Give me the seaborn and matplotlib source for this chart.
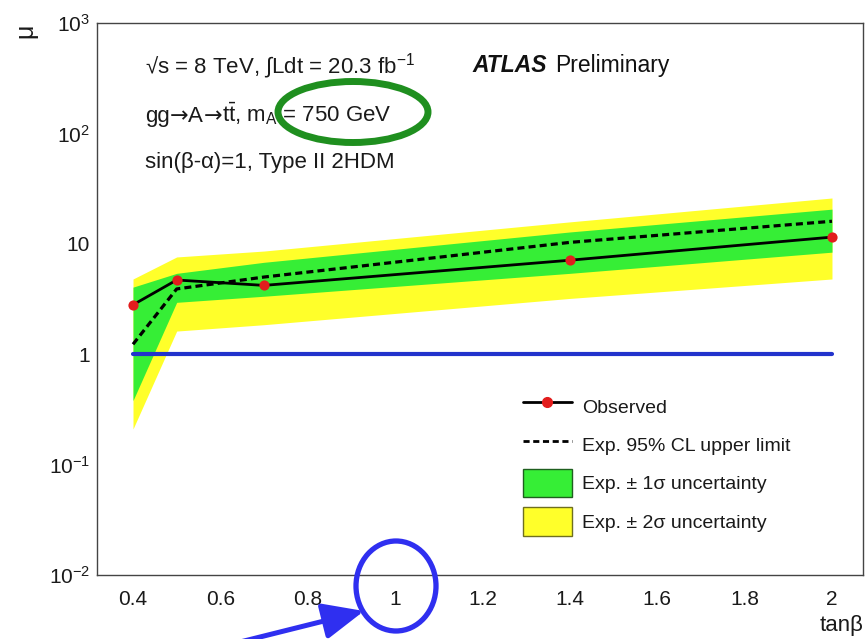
import matplotlib
matplotlib.use("Agg")
import numpy as np
import matplotlib.pyplot as plt
import seaborn as sns
from matplotlib.patches import Ellipse, FancyArrowPatch, Patch
from matplotlib.lines import Line2D
from matplotlib.ticker import FixedLocator, FixedFormatter, MultipleLocator, LogLocator, NullFormatter

# tan(beta) scan points and the signal-strength limits at each of them
tan_beta = [0.4, 0.5, 0.7, 1.4, 2.0]
mu_observed = [2.8, 4.7, 4.2, 7.1, 11.5]
mu_expected = [1.23, 3.9, 5.0, 10.3, 16.0]
sigma1_low = [0.38, 2.95, 3.35, 5.4, 8.4]
sigma1_high = [4.05, 5.4, 6.8, 12.8, 20.6]
sigma2_low = [0.21, 1.62, 1.85, 3.2, 4.8]
sigma2_high = [4.8, 7.6, 8.6, 15.8, 26.0]

# mu = 1 reference across the scanned range
reference_x = [0.4, 2.0]
reference_mu = [1.0, 1.0]

x_ticks = [0.4, 0.6, 0.8, 1.0, 1.2, 1.4, 1.6, 1.8, 2.0]
x_tick_labels = ["0.4", "0.6", "0.8", "1", "1.2", "1.4", "1.6", "1.8", "2"]
y_ticks = [1e-2, 1e-1, 1, 10, 1e2, 1e3]
y_tick_labels = [r"$10^{-2}$", r"$10^{-1}$", "1", "10", r"$10^{2}$", r"$10^{3}$"]

legend_labels = ["Observed", "Exp. 95% CL upper limit",
                 "Exp. \u00b1 1\u03c3 uncertainty", "Exp. \u00b1 2\u03c3 uncertainty"]

GREEN = "#36ee36"
YELLOW = "#ffff2a"
RED = "#e21d1d"
BLUE_LINE = "#2233cc"
MARK_GREEN = "#1f8f1f"
MARK_BLUE = "#2f2ff0"

sns.set_theme(style="white")
plt.rcParams["font.family"] = ["Liberation Sans", "DejaVu Sans"]
plt.rcParams["mathtext.fontset"] = "custom"
plt.rcParams["mathtext.rm"] = "Liberation Sans"
plt.rcParams["mathtext.it"] = "Liberation Sans:italic"
plt.rcParams["mathtext.bf"] = "Liberation Sans:bold"
plt.rcParams["mathtext.fallback"] = "stixsans"

W, H = 867, 639
fig = plt.figure(figsize=(W / 100, H / 100), dpi=100)
fig.patch.set_facecolor("white")


def fx(px):
    return px / W


def fy(py):
    return 1 - py / H


ax = fig.add_axes([fx(97), fy(575), 766 / W, 552 / H])
ax.set_facecolor("white")

# uncertainty bands
ax.fill_between(tan_beta, sigma2_low, sigma2_high, color=YELLOW, lw=0, zorder=1)
ax.fill_between(tan_beta, sigma1_low, sigma1_high, color=GREEN, lw=0, zorder=2)

sns.lineplot(x=reference_x, y=reference_mu, ax=ax, color=BLUE_LINE, lw=3.0, zorder=3)
sns.lineplot(x=tan_beta, y=mu_expected, ax=ax, color="black", lw=2.3,
             linestyle=(0, (2.2, 1.3)), zorder=4)
sns.lineplot(x=tan_beta, y=mu_observed, ax=ax, color="black", lw=2.0, zorder=5)
sns.scatterplot(x=tan_beta, y=mu_observed, ax=ax, color=RED, s=54,
                edgecolor=RED, linewidth=0, zorder=6)

ax.set_yscale("log")
ax.set_xlim(0.3176, 2.071)
ax.set_ylim(1e-2, 1e3)

ax.xaxis.set_major_locator(FixedLocator(x_ticks))
ax.xaxis.set_major_formatter(FixedFormatter(x_tick_labels))
ax.xaxis.set_minor_locator(MultipleLocator(0.05))
ax.yaxis.set_major_locator(FixedLocator(y_ticks))
ax.yaxis.set_major_formatter(FixedFormatter(y_tick_labels))
ax.yaxis.set_minor_locator(LogLocator(base=10, subs=np.arange(2, 10)))
ax.yaxis.set_minor_formatter(NullFormatter())

ax.tick_params(which="both", direction="in", top=False, right=False,
               color="#333333", width=0.8, labelsize=15, labelcolor="#1a1a1a")
ax.tick_params(axis="x", which="major", length=10.8, pad=11)
ax.tick_params(axis="x", which="minor", length=5.8)
ax.tick_params(axis="y", which="major", length=14.4, pad=5)
ax.tick_params(axis="y", which="minor", length=7.2)
for side in ax.spines.values():
    side.set_visible(True)
    side.set_color("#444444")
    side.set_linewidth(1.0)

ax.set_xlabel("tan\u03b2", fontsize=16, loc="right", color="#1a1a1a")
ax.xaxis.set_label_coords(1.0, -0.072)
ax.set_ylabel("\u03bc", fontsize=18, loc="top", color="#1a1a1a")
ax.yaxis.set_label_coords(-0.078, 0.998)

# analysis description
txt = dict(transform=ax.transAxes, fontsize=16, color="#1a1a1a", va="baseline", ha="left")
ax.text(0.0627, 0.909, "\u221as = 8 TeV, \u222bLdt = 20.3 fb$^{-1}$", **txt)

# process line: pieces set one after another on a common baseline, arrows from DejaVu Sans
renderer = fig.canvas.get_renderer()
process_pieces = [
    ("gg", {}),
    ("\u2192", {"family": "DejaVu Sans"}),
    ("A", {}),
    ("\u2192", {"family": "DejaVu Sans"}),
    (r"t$\bar{\mathrm{t}}$, m$_{\mathrm{A}}$ = 750 GeV", {}),
]
x_pos = 0.0627
for piece, extra in process_pieces:
    t = ax.text(x_pos, 0.821, piece, **txt, **extra)
    bb = t.get_window_extent(renderer)
    x_pos = ax.transAxes.inverted().transform((bb.x1, bb.y0))[0]

ax.text(0.0627, 0.737, "sin(\u03b2-\u03b1)=1, Type II 2HDM", **txt)
ax.text(0.4896, 0.911, "ATLAS", transform=ax.transAxes, fontsize=16.5, fontweight="bold",
        fontstyle="italic", va="baseline", ha="left", color="#111111")
ax.text(0.598, 0.911, "Preliminary", transform=ax.transAxes, fontsize=16.5,
        va="baseline", ha="left", color="#111111")

handles = [
    Line2D([], [], color="black", lw=2.0, marker="o", markersize=7,
           markerfacecolor=RED, markeredgecolor=RED),
    Line2D([], [], color="black", lw=2.0, linestyle=(0, (2.2, 1.3))),
    Patch(facecolor=GREEN, edgecolor="#1f5f1f", lw=1.0),
    Patch(facecolor=YELLOW, edgecolor="#6f6f1f", lw=1.0),
]
ax.legend(handles, legend_labels, loc="upper left", bbox_to_anchor=(0.556, 0.331),
          frameon=False, fontsize=14, borderpad=0, borderaxespad=0,
          handlelength=2.52, handleheight=1.86, handletextpad=0.51,
          labelspacing=0.52, numpoints=1, labelcolor="#1a1a1a")

# highlight marks
fig.add_artist(Ellipse((fx(353), fy(112)), 150 / W, 61 / H, transform=fig.transFigure,
                       fill=False, ec=MARK_GREEN, lw=5.0, zorder=10))
fig.add_artist(Ellipse((fx(396), fy(586)), 80 / W, 90 / H, transform=fig.transFigure,
                       fill=False, ec=MARK_BLUE, lw=3.8, zorder=10))
fig.add_artist(FancyArrowPatch((fx(240), fy(642)), (fx(364), fy(611)),
                               transform=fig.transFigure,
                               arrowstyle="-|>,head_length=1.25,head_width=0.55",
                               mutation_scale=20, lw=3.6, color=MARK_BLUE,
                               shrinkA=0, shrinkB=0, zorder=10))

fig.savefig("out.png", dpi=100, facecolor="white")
